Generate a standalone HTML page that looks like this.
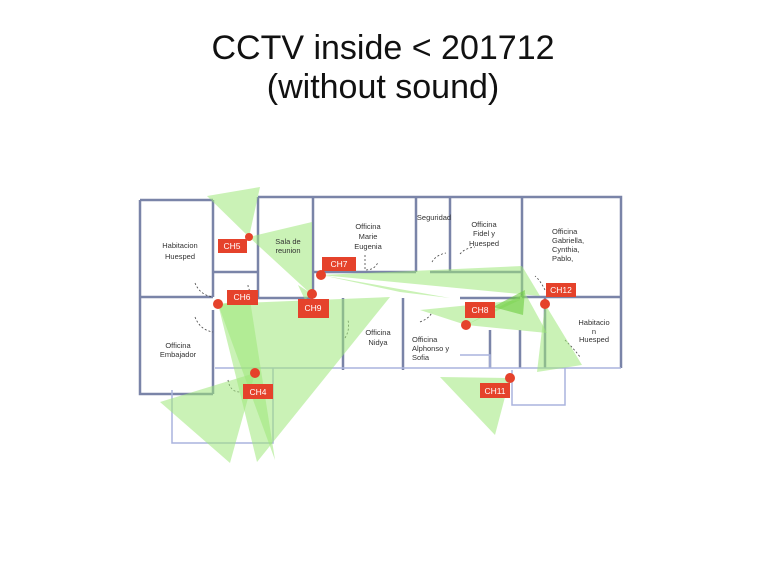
<!DOCTYPE html>
<html><head><meta charset="utf-8"><style>
html,body{margin:0;padding:0;background:#fff;}
svg{display:block;}
</style></head><body>
<svg width="768" height="574" viewBox="0 0 768 574" xmlns="http://www.w3.org/2000/svg" font-family="Liberation Sans, sans-serif">
<rect width="768" height="574" fill="#fff"/>
<text x="383" y="59" font-size="34" text-anchor="middle" fill="#111">CCTV inside &lt; 201712</text>
<text x="383" y="98" font-size="34" text-anchor="middle" fill="#111">(without sound)</text>

<!-- walls -->
<g fill="none" stroke="#7a84a8" stroke-width="2.5">
<path d="M140 200 H213 M140 200 V394 H213 M258 197 H621 V368"/>
<path d="M213 200 V297 M213 272 H258 M258 197 V298 M313 197 V298"/>
<path d="M416 197 V272 M450 197 V272 M522 197 V297 M522 297 H621"/>
<path d="M140 297 H213 M258 298 H313 M313 272 H416 M430 272 H522"/>
<path d="M213 310 V394 M343 298 V370 M403 298 V370 M460 298 H520 M545 297 V368"/>
<path d="M490 330 V368 M520 330 V368"/>
</g>
<g fill="none" stroke="#aab4dd" stroke-width="1.5">
<path d="M215 368 H621 M172 390 V443 H273 V368 M512 370 V405 H565 V368"/>
<path d="M460 355 H490 V368"/>
</g>
<g fill="none" stroke="#444" stroke-width="0.8" stroke-dasharray="2,2">
<path d="M195 283 Q200 295 213 297 M195 317 Q200 330 213 332 M228 380 Q230 392 240 392 M248 285 Q248 292 258 297 M365 255 V270 Q375 270 378 262 M432 262 Q436 255 446 253 M460 254 Q465 248 475 247 M545 290 Q540 280 535 276 M345 338 Q350 330 348 320 M420 322 Q430 318 432 312 M565 340 Q575 350 580 357"/>
</g>

<!-- green cones -->
<g fill="#9ee87a" fill-opacity="0.55">
<polygon points="249,237 207,196 260,187"/>
<polygon points="249,237 312,222 312,295"/>
<polygon points="321,275 522,266 540,296"/>
<polygon points="321,275 450,298 400,292"/>
<polygon points="218,304 390,297 257,462"/>
<polygon points="218,304 250,300 275,460"/>
<polygon points="255,373 160,402 230,463"/>
<polygon points="312,294 298,285 305,300"/>
<polygon points="466,325 525,293 547,333"/>
<polygon points="466,325 420,310 520,300"/>
<polygon points="545,304 537,372 582,365"/>
<polygon points="510,378 440,377 495,435"/>
</g>
<polygon points="493,307 525,290 523,315" fill="#6dcc3e" fill-opacity="0.6"/>

<!-- room labels -->
<g font-size="7.5" fill="#333" text-anchor="middle">
<text x="180" y="248">Habitacion</text><text x="180" y="259">Huesped</text>
<text x="288" y="244">Sala de</text><text x="288" y="253">reunion</text>
<text x="368" y="229">Officina</text><text x="368" y="239">Marie</text><text x="368" y="249">Eugenia</text>
<text x="434" y="220">Seguridad</text>
<text x="484" y="227">Officina</text><text x="484" y="236">Fidel y</text><text x="484" y="246">Huesped</text>
<text x="378" y="335">Officina</text><text x="378" y="345">Nidya</text>
<text x="178" y="348">Officina</text><text x="178" y="357">Embajador</text>
<text x="594" y="325">Habitacio</text><text x="594" y="334">n</text><text x="594" y="342">Huesped</text>
</g>
<g font-size="7.5" fill="#333">
<text x="552" y="234">Officina</text><text x="552" y="243">Gabriella,</text><text x="552" y="252">Cynthia,</text><text x="552" y="261">Pablo,</text>
<text x="412" y="342">Officina</text><text x="412" y="351">Alphonso y</text><text x="412" y="360">Sofia</text>
</g>

<!-- camera labels -->
<g fill="#e5422b">
<rect x="218" y="239" width="29" height="14"/>
<rect x="227" y="290" width="31" height="15"/>
<rect x="322" y="257" width="34" height="14"/>
<rect x="298" y="299" width="31" height="19"/>
<rect x="243" y="384" width="30" height="15"/>
<rect x="465" y="302" width="30" height="16"/>
<rect x="546" y="283" width="30" height="14"/>
<rect x="480" y="383" width="30" height="15"/>
<circle cx="249" cy="237" r="4"/>
<circle cx="218" cy="304" r="5"/>
<circle cx="321" cy="275" r="5"/>
<circle cx="312" cy="294" r="5"/>
<circle cx="255" cy="373" r="5"/>
<circle cx="466" cy="325" r="5"/>
<circle cx="545" cy="304" r="5"/>
<circle cx="510" cy="378" r="5"/>
</g>
<g font-size="8.5" fill="#fff" text-anchor="middle">
<text x="232" y="249">CH5</text>
<text x="242" y="300">CH6</text>
<text x="339" y="267">CH7</text>
<text x="313" y="311">CH9</text>
<text x="258" y="395">CH4</text>
<text x="480" y="313">CH8</text>
<text x="561" y="293">CH12</text>
<text x="495" y="394">CH11</text>
</g>
</svg>
</body></html>
